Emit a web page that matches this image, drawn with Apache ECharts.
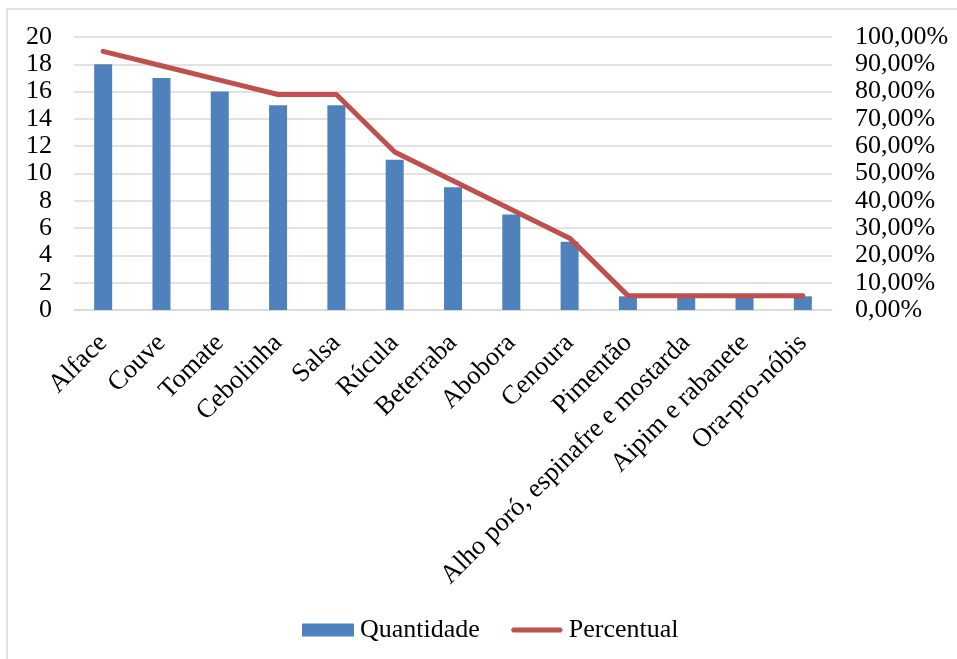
<!DOCTYPE html>
<html>
<head>
<meta charset="utf-8">
<script src="https://cdn.jsdelivr.net/npm/echarts@6/dist/echarts.min.js"></script>
<style>
  html, body { margin: 0; padding: 0; background: #fff; }
  #chart { width: 957px; height: 659px; }
</style>
</head>
<body>
<div id="chart"></div>
<script>
// Hortaliças cultivadas: quantidade de citações e percentual
const categories = ['Alface', 'Couve', 'Tomate', 'Cebolinha', 'Salsa', 'Rúcula', 'Beterraba', 'Abobora', 'Cenoura', 'Pimentão', 'Alho poró, espinafre e mostarda', 'Aipim e rabanete', 'Ora-pro-nóbis'];
const quantidade = [18, 17, 16, 15, 15, 11, 9, 7, 5, 1, 1, 1, 1];
const percentual = [94.74, 89.47, 84.21, 78.95, 78.95, 57.89, 47.37, 36.84, 26.32, 5.26, 5.26, 5.26, 5.26];

const FONT = '"Liberation Serif", "Times New Roman", serif';
const BLUE = '#4f81bd';
const RED = '#c0504d';
const chart = echarts.init(document.getElementById('chart'), null, { renderer: 'canvas' });

chart.setOption({
  animation: false,
  backgroundColor: '#ffffff',
  textStyle: { fontFamily: FONT, color: '#000' },
  graphic: [{
    type: 'rect',
    shape: { x: 7, y: 9, width: 1000, height: 700 },
    style: { fill: 'none', stroke: '#d9d9d9', lineWidth: 1.5 },
    silent: true
  }],
  grid: { left: 74, right: 125, top: 37, bottom: 349, containLabel: false },
  legend: {
    left: 297,
    top: 612,
    itemWidth: 52,
    itemHeight: 13,
    itemGap: 31,
    textStyle: { fontFamily: FONT, fontSize: 26, color: '#000', padding: [0, 0, 0, 1] },
    data: [
      { name: 'Quantidade', icon: 'rect', itemStyle: { color: BLUE } },
      // thick line swatch; the zero-area subpaths keep the box 52x13
      { name: 'Percentual', icon: 'path://M0,0L0,0Z M1,4L51,4L53,6.5L51,9L1,9L-1,6.5Z M52,13L52,13Z', itemStyle: { color: RED } }
    ]
  },
  xAxis: {
    type: 'category',
    data: categories,
    axisLine: { lineStyle: { color: '#d9d9d9', width: 1.5 } },
    axisTick: { show: false },
    axisLabel: {
      rotate: 45,
      interval: 0,
      margin: 29,
      fontFamily: FONT,
      fontSize: 26.5,
      color: '#000'
    }
  },
  yAxis: [{
    type: 'value',
    min: 0, max: 20, interval: 2,
    axisLine: { show: false },
    axisTick: { show: false },
    splitLine: { lineStyle: { color: '#d9d9d9', width: 1.5 } },
    axisLabel: { margin: 22, fontFamily: FONT, fontSize: 26, color: '#000' }
  }, {
    type: 'value',
    min: 0, max: 100, interval: 10,
    axisLine: { show: false },
    axisTick: { show: false },
    splitLine: { show: false },
    axisLabel: {
      margin: 23, fontFamily: FONT, fontSize: 26, color: '#000',
      formatter: v => v.toFixed(2).replace('.', ',') + '%'
    }
  }],
  series: [{
    name: 'Quantidade',
    type: 'bar',
    data: quantidade,
    barWidth: 18,
    itemStyle: { color: BLUE }
  }, {
    name: 'Percentual',
    type: 'line',
    yAxisIndex: 1,
    data: percentual,
    symbol: 'none',
    showSymbol: false,
    z: 3,
    lineStyle: { color: RED, width: 5, cap: 'round', join: 'round' },
    itemStyle: { color: RED }
  }]
});
</script>
</body>
</html>
